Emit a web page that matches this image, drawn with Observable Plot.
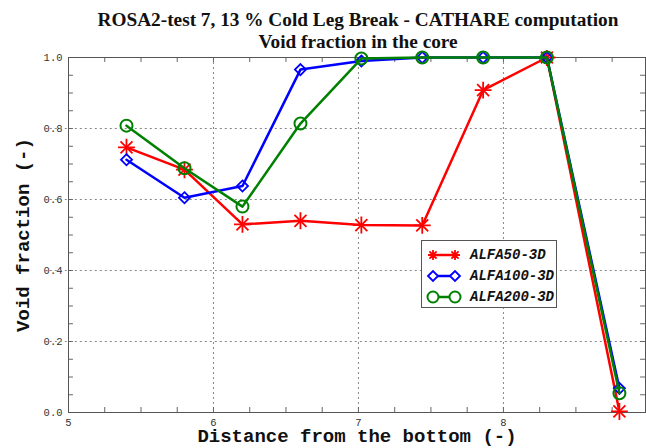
<!DOCTYPE html>
<html>
<head>
<meta charset="utf-8">
<script src="https://cdn.jsdelivr.net/npm/d3@7"></script>
<script src="https://cdn.jsdelivr.net/npm/@observablehq/plot@0.6"></script>
<style>
  html, body { margin: 0; padding: 0; background: #fff; }
  #wrap { position: relative; width: 646px; height: 448px; overflow: hidden; }
  #title { position: absolute; left: 67px; top: 9px; width: 582px; text-align: center;
    font-family: "Liberation Serif", "Times New Roman", serif; font-weight: bold; font-size: 19.3px; line-height: 22px; color: #111; }
  #chart { position: absolute; left: 0; top: 50px; }
  #legend { position: absolute; left: 421px; top: 240px; width: 136px; height: 68px; border: 1px solid #555;
    background: #fff; box-sizing: border-box; padding-top: 3px; }
  .row { height: 21px; display: flex; align-items: center; }
  .row svg { margin-left: 4px; }
  .row span { margin-left: 8px; font-family: "Liberation Mono", monospace; font-weight: bold; font-style: italic; font-size: 14px; color: #111; }
</style>
</head>
<body>
<div id="wrap">
  <div id="title"></div>
  <div id="chart"></div>
  <div id="legend"></div>
</div>
<script>
const titleLines = ["ROSA2-test 7, 13 % Cold Leg Break - CATHARE computation", "Void fraction in the core"];
const xLabel = "Distance from the bottom (-)";
const yLabel = "Void fraction (-)";

const distance = [5.4, 5.8, 6.2, 6.6, 7.02, 7.44, 7.86, 8.3, 8.8];
const alfa50  = [0.747, 0.684, 0.530, 0.540, 0.528, 0.527, 0.908, 1.0, 0.003];
const alfa100 = [0.712, 0.605, 0.638, 0.966, 0.990, 1.0, 1.0, 1.0, 0.068];
const alfa200 = [0.808, 0.688, 0.580, 0.814, 0.997, 1.0, 1.0, 1.0, 0.054];

const seriesNames = ["ALFA50-3D", "ALFA100-3D", "ALFA200-3D"];
const seriesColors = ["#ff0000", "#0000ff", "#008000"];

const xTicks = [5, 6, 7, 8];
const yTicks = [0, 0.2, 0.4, 0.6, 0.8, 1.0];
const xGrid = [6, 7, 8];
const yGrid = [0.2, 0.4, 0.6, 0.8];
const xMinor = d3.range(5.25, 8.9, 0.25);
const yMinor = d3.range(0.05, 0.99, 0.05);

document.getElementById("title").innerHTML = titleLines.join("<br>");

const seriesValues = [alfa50, alfa100, alfa200];
const data = seriesNames.flatMap((name, i) => distance.map((x, j) => ({series: name, x, y: seriesValues[i][j]})));
const sub = name => data.filter(d => d.series === name);

const xDomain = [5, 8.98];
const yDomain = [0, 1];
const xLen = 0.034, yLen = 0.014;
const mono = "'Liberation Mono', 'DejaVu Sans Mono', monospace";

const chart = Plot.plot({
  width: 646,
  height: 398,
  marginTop: 7,
  marginLeft: 68,
  marginRight: 1,
  marginBottom: 36,
  style: {fontFamily: mono, fontSize: "10.5px", color: "#333", background: "#fff"},
  x: {domain: xDomain, ticks: xTicks, tickSize: 0, tickPadding: 6, tickFormat: d3.format("d"), label: null},
  y: {domain: yDomain, ticks: yTicks, tickSize: 0, tickPadding: 6, tickFormat: d3.format(".1f"), label: null},
  marks: [
    Plot.ruleX(xGrid, {stroke: "#888", strokeDasharray: "2,3", strokeWidth: 1}),
    Plot.ruleY(yGrid, {x1: xDomain[0] - 0.16, x2: xDomain[1], stroke: "#888", strokeDasharray: "2,3", strokeWidth: 1}),
    Plot.ruleX(xMinor, {y1: 0, y2: yLen, stroke: "#666"}),
    Plot.ruleX(xMinor, {y1: 1, y2: 1 - yLen, stroke: "#666"}),
    Plot.ruleY(yMinor, {x1: xDomain[0], x2: xDomain[0] + xLen, stroke: "#666"}),
    Plot.ruleY(yMinor, {x1: xDomain[1], x2: xDomain[1] - xLen, stroke: "#666"}),
    Plot.frame({stroke: "#555"}),
    // ALFA50
    Plot.line(sub(seriesNames[0]), {x: "x", y: "y", stroke: seriesColors[0], strokeWidth: 2.5}),
    Plot.dot(sub(seriesNames[0]), {x: "x", y: "y", symbol: "plus", r: 5.5, stroke: seriesColors[0], strokeWidth: 1.8}),
    Plot.dot(sub(seriesNames[0]), {x: "x", y: "y", symbol: "times", r: 5.5, stroke: seriesColors[0], strokeWidth: 1.8}),
    // ALFA100
    Plot.line(sub(seriesNames[1]), {x: "x", y: "y", stroke: seriesColors[1], strokeWidth: 2.5}),
    Plot.dot(sub(seriesNames[1]), {x: "x", y: "y", symbol: "diamond2", r: 5, stroke: seriesColors[1], strokeWidth: 1.8, fill: "none"}),
    // ALFA200
    Plot.line(sub(seriesNames[2]), {x: "x", y: "y", stroke: seriesColors[2], strokeWidth: 2.5}),
    Plot.dot(sub(seriesNames[2]), {x: "x", y: "y", symbol: "circle", r: 6, stroke: seriesColors[2], strokeWidth: 2, fill: "none"}),
    // axis titles
    Plot.text([xLabel], {frameAnchor: "bottom", lineAnchor: "middle", dy: 23.5, fontFamily: mono, fontWeight: "bold", fontSize: 19, fill: "#111"}),
    Plot.text([yLabel], {frameAnchor: "left", textAnchor: "middle", lineAnchor: "middle", rotate: -90, dx: -46, fontFamily: mono, fontWeight: "bold", fontSize: 19, fill: "#111"})
  ]
});
document.getElementById("chart").appendChild(chart);

// legend
const legend = document.getElementById("legend");
seriesNames.forEach((name, i) => {
  const c = seriesColors[i];
  let marker;
  if (i === 0) marker = x => `<path d="M${x-5},7h10M${x},2v10M${x-3.6},3.4l7.2,7.2M${x+3.6},3.4l-7.2,7.2" stroke="${c}" stroke-width="1.8" fill="none"/>`;
  else if (i === 1) marker = x => `<path d="M${x-5},7L${x},2L${x+5},7L${x},12Z" stroke="${c}" stroke-width="1.8" fill="white"/>`;
  else marker = x => `<circle cx="${x}" cy="7" r="5.5" stroke="${c}" stroke-width="2" fill="white"/>`;
  const row = document.createElement("div");
  row.className = "row";
  row.innerHTML = `<svg width="36" height="14"><line x1="6" y1="7" x2="30" y2="7" stroke="${c}" stroke-width="2.5"/>${marker(7)}${marker(29)}</svg><span>${name}</span>`;
  legend.appendChild(row);
});
</script>
</body>
</html>
